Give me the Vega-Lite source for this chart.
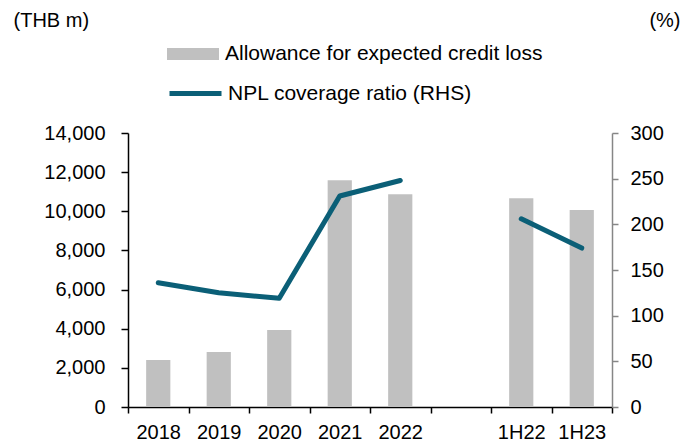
{
  "$schema": "https://vega.github.io/schema/vega-lite/v6.json",
  "width": 484,
  "height": 274,
  "autosize": {"type": "none"},
  "padding": {"left": 128, "top": 133, "right": 77, "bottom": 32},
  "config": {"font": "Liberation Sans", "view": {"stroke": null}},
  "data": {
    "values": [
      {"period": "2018", "allowance": 2400, "npl": 136, "seg": "FY"},
      {"period": "2019", "allowance": 2810, "npl": 125, "seg": "FY"},
      {"period": "2020", "allowance": 3930, "npl": 119, "seg": "FY"},
      {"period": "2021", "allowance": 11580, "npl": 231, "seg": "FY"},
      {"period": "2022", "allowance": 10870, "npl": 248, "seg": "FY"},
      {"period": " ", "allowance": null, "npl": null, "seg": "gap"},
      {"period": "1H22", "allowance": 10660, "npl": 206, "seg": "H1"},
      {"period": "1H23", "allowance": 10060, "npl": 174, "seg": "H1"}
    ]
  },
  "encoding": {
    "x": {
      "field": "period",
      "type": "nominal",
      "sort": null,
      "scale": {"domain": ["2018", "2019", "2020", "2021", "2022", " ", "1H22", "1H23"], "paddingInner": 0, "paddingOuter": 0},
      "axis": {
        "title": null,
        "labelAngle": 0,
        "tickBand": "extent",
        "domainColor": "#000000",
        "tickColor": "#000000",
        "domainWidth": 1.5,
        "tickWidth": 1.5,
        "tickSize": 6,
        "labelFontSize": 20,
        "labelColor": "#000000",
        "labelPadding": 9,
        "grid": false
      }
    }
  },
  "layer": [
    {
      "mark": {"type": "bar", "width": {"band": 0.4}},
      "encoding": {
        "y": {
          "field": "allowance",
          "type": "quantitative",
          "scale": {"domain": [0, 14000], "nice": false},
          "axis": {
            "title": "(THB m)",
            "titleAngle": 0,
            "titleX": -115,
            "titleY": -113,
            "titleAlign": "left",
            "titleBaseline": "middle",
            "titleFontSize": 20,
            "titleFontWeight": "normal",
            "titleColor": "#000000",
            "values": [0, 2000, 4000, 6000, 8000, 10000, 12000, 14000],
            "format": ",.0f",
            "grid": false,
            "domainColor": "#000000",
            "tickColor": "#000000",
            "domainWidth": 1.5,
            "tickWidth": 1.5,
            "tickSize": 7,
            "labelPadding": 16,
            "labelFontSize": 20,
            "labelColor": "#000000"
          }
        },
        "fill": {
          "datum": "Allowance for expected credit loss",
          "scale": {"range": ["#C0C0C0"]},
          "legend": {
            "title": null,
            "orient": "none",
            "legendX": 39,
            "legendY": -105,
            "symbolType": "M-1,-0.23L1,-0.23L1,0.23L-1,0.23Z",
            "symbolSize": 2704,
            "symbolStrokeWidth": 0,
            "labelFontSize": 21,
            "labelOffset": 6,
            "labelLimit": 0,
            "labelColor": "#000000",
            "padding": 0
          }
        }
      }
    },
    {
      "mark": {"type": "line", "strokeWidth": 5, "strokeCap": "round", "strokeJoin": "round"},
      "encoding": {
        "y": {
          "field": "npl",
          "type": "quantitative",
          "scale": {"domain": [0, 300], "nice": false},
          "axis": {
            "orient": "right",
            "title": "(%)",
            "titleAngle": 0,
            "titleX": 68,
            "titleY": -113,
            "titleAlign": "right",
            "titleBaseline": "middle",
            "titleFontSize": 20,
            "titleFontWeight": "normal",
            "titleColor": "#000000",
            "values": [0, 50, 100, 150, 200, 250, 300],
            "grid": false,
            "domainColor": "#868686",
            "tickColor": "#868686",
            "domainWidth": 1.5,
            "tickWidth": 1.5,
            "tickSize": 6,
            "labelPadding": 12,
            "labelFontSize": 20,
            "labelColor": "#000000"
          }
        },
        "detail": {"field": "seg"},
        "stroke": {
          "datum": "NPL coverage ratio (RHS)",
          "scale": {"range": ["#0B5F77"]},
          "legend": {
            "title": null,
            "orient": "none",
            "legendX": 39,
            "legendY": -68,
            "symbolType": "stroke",
            "symbolSize": 2704,
            "symbolStrokeWidth": 5,
            "labelFontSize": 21,
            "labelOffset": 4,
            "labelLimit": 0,
            "labelColor": "#000000",
            "padding": 0
          }
        }
      }
    }
  ],
  "resolve": {"scale": {"y": "independent"}}
}
